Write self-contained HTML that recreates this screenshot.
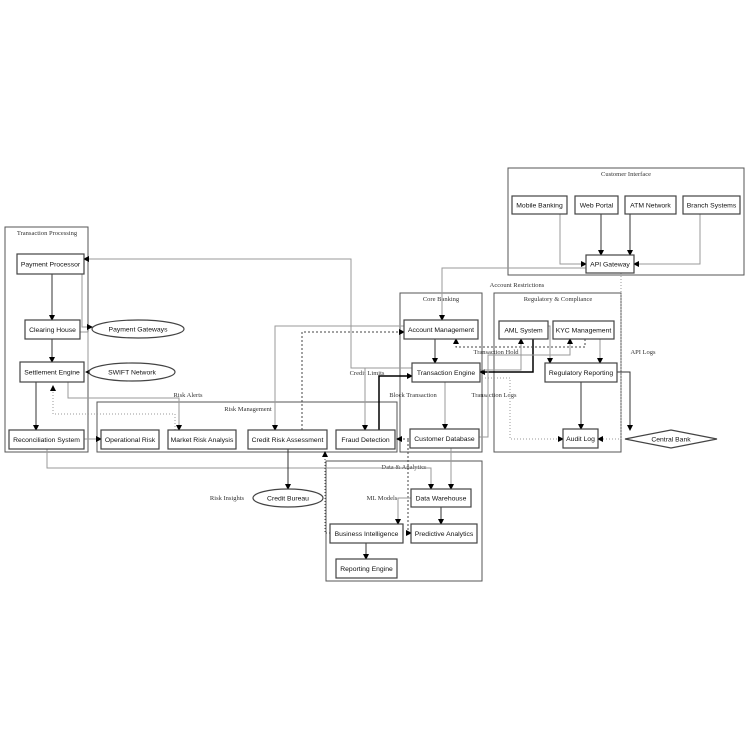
<!DOCTYPE html>
<html><head><meta charset="utf-8"><style>body{margin:0;background:#fff}svg{display:block}</style></head><body>
<svg width="750" height="750" viewBox="0 0 750 750" xmlns="http://www.w3.org/2000/svg">
<defs><marker id="a" markerWidth="6" markerHeight="6" refX="5" refY="3" orient="auto" markerUnits="userSpaceOnUse"><path d="M0,0 L6,3 L0,6 z" fill="#000"/></marker></defs>
<g fill="none" stroke="#555" stroke-width="1">
<rect x="5" y="227" width="83" height="225"/>
<rect x="508" y="168" width="236" height="107"/>
<rect x="400" y="293" width="82" height="159"/>
<rect x="494" y="293" width="127" height="159"/>
<rect x="97" y="402" width="300" height="50"/>
<rect x="326" y="461" width="156" height="120"/>
</g>
<g font-family="Liberation Serif, serif" font-size="6.5" fill="#333" text-anchor="middle">
<text x="47" y="235">Transaction Processing</text>
<text x="626" y="176">Customer Interface</text>
<text x="441" y="301">Core Banking</text>
<text x="558" y="301">Regulatory &amp; Compliance</text>
<text x="248" y="411">Risk Management</text>
<text x="404" y="469">Data &amp; Analytics</text>
<text x="517" y="287">Account Restrictions</text>
<text x="496" y="354">Transaction Hold</text>
<text x="367" y="375">Credit Limits</text>
<text x="413" y="397">Block Transaction</text>
<text x="494" y="397">Transaction Logs</text>
<text x="643" y="354">API Logs</text>
<text x="188" y="397">Risk Alerts</text>
<text x="227" y="500">Risk Insights</text>
<text x="382" y="500">ML Models</text>
</g>
<g fill="none" stroke="#999" stroke-width="1" marker-end="url(#a)">
<path d="M52,274V320" stroke="#333"/>
<path d="M52,339V362" stroke="#333"/>
<path d="M36,382V430" stroke="#333"/>
<path d="M82,274V327H92"/>
<path d="M80,332H88V372H86"/>
<path d="M412,368H351V259H84"/>
<path d="M68,382V398H179V430"/>
<path d="M175,430V414H53V386" stroke-dasharray="1,2"/>
<path d="M84,439H101"/>
<path d="M47,449V468H431V489"/>
<path d="M587,268H442V320"/>
<path d="M560,214V264H586"/>
<path d="M601,214V255" stroke="#333"/>
<path d="M630,214V255" stroke="#333"/>
<path d="M700,214V264H634"/>
<path d="M621,273V439H598" stroke-dasharray="1,2"/>
<path d="M435,339V363" stroke="#333"/>
<path d="M445,382V429"/>
<path d="M451,447V489"/>
<path d="M404,326H275V430"/>
<path d="M302,430V332H404" stroke-dasharray="2,2" stroke="#444"/>
<path d="M288,449V489" stroke="#333"/>
<path d="M379,430V376H412" stroke="#000" stroke-width="1.5"/>
<path d="M365,368V430"/>
<path d="M533,339V372H480" stroke="#000" stroke-width="1.5"/>
<path d="M548,326H550V363"/>
<path d="M600,339V363"/>
<path d="M585,339V347H456V339" stroke-dasharray="2,2" stroke="#444"/>
<path d="M478,437H488V355H570V339"/>
<path d="M480,370H521V339"/>
<path d="M581,382V429" stroke="#333"/>
<path d="M617,372H630V430" stroke="#333"/>
<path d="M482,378H510V439H563" stroke-dasharray="1,2"/>
<path d="M408,440V533H411" stroke-dasharray="2,2" stroke="#444"/>
<path d="M409,439H397" stroke-dasharray="2,2" stroke="#444"/>
<path d="M330,533H325V452" stroke-dasharray="1,2" stroke="#444"/>
<path d="M411,498H398V524"/>
<path d="M441,507V524" stroke="#333"/>
<path d="M366,543V559" stroke="#333"/>
</g>
<g fill="#fff" stroke="#444" stroke-width="1.2">
<rect x="17" y="254" width="67" height="20"/>
<rect x="25" y="320" width="55" height="19"/>
<rect x="20" y="362" width="64" height="20"/>
<rect x="9" y="430" width="75" height="19"/>
<ellipse cx="138" cy="329" rx="46" ry="9"/>
<ellipse cx="132" cy="372" rx="43" ry="9"/>
<rect x="101" y="430" width="58" height="19"/>
<rect x="168" y="430" width="68" height="19"/>
<rect x="248" y="430" width="79" height="19"/>
<rect x="336" y="430" width="59" height="19"/>
<rect x="410" y="429" width="69" height="19"/>
<rect x="404" y="320" width="74" height="19"/>
<rect x="412" y="363" width="68" height="19"/>
<rect x="499" y="321" width="49" height="18"/>
<rect x="553" y="321" width="61" height="18"/>
<rect x="545" y="363" width="72" height="19"/>
<rect x="563" y="429" width="35" height="19"/>
<polygon points="625,439 671,430 717,439 671,448"/>
<rect x="512" y="196" width="55" height="18"/>
<rect x="575" y="196" width="43" height="18"/>
<rect x="625" y="196" width="51" height="18"/>
<rect x="683" y="196" width="57" height="18"/>
<rect x="586" y="255" width="48" height="18"/>
<rect x="411" y="489" width="60" height="18"/>
<rect x="411" y="524" width="66" height="19"/>
<rect x="330" y="524" width="73" height="19"/>
<rect x="336" y="559" width="61" height="19"/>
<ellipse cx="288" cy="498" rx="35" ry="9"/>
</g>
<g font-family="Liberation Sans, sans-serif" font-size="6.8" fill="#111" text-anchor="middle">
<text x="50.5" y="266.5">Payment Processor</text>
<text x="52.5" y="332">Clearing House</text>
<text x="52" y="374.5">Settlement Engine</text>
<text x="46.5" y="442">Reconciliation System</text>
<text x="138" y="331.5">Payment Gateways</text>
<text x="132" y="374.5">SWIFT Network</text>
<text x="130" y="442">Operational Risk</text>
<text x="202" y="442">Market Risk Analysis</text>
<text x="287.5" y="442">Credit Risk Assessment</text>
<text x="365.5" y="442">Fraud Detection</text>
<text x="444.5" y="441">Customer Database</text>
<text x="441" y="332">Account Management</text>
<text x="446" y="375">Transaction Engine</text>
<text x="523.5" y="332.5">AML System</text>
<text x="583.5" y="332.5">KYC Management</text>
<text x="581" y="375">Regulatory Reporting</text>
<text x="580.5" y="441">Audit Log</text>
<text x="671" y="441.5">Central Bank</text>
<text x="539.5" y="207.5">Mobile Banking</text>
<text x="596.5" y="207.5">Web Portal</text>
<text x="650.5" y="207.5">ATM Network</text>
<text x="711.5" y="207.5">Branch Systems</text>
<text x="610" y="266.5">API Gateway</text>
<text x="441" y="500.5">Data Warehouse</text>
<text x="444" y="536">Predictive Analytics</text>
<text x="366.5" y="536">Business Intelligence</text>
<text x="366.5" y="571">Reporting Engine</text>
<text x="288" y="500.5">Credit Bureau</text>
</g>
</svg>
</body></html>
